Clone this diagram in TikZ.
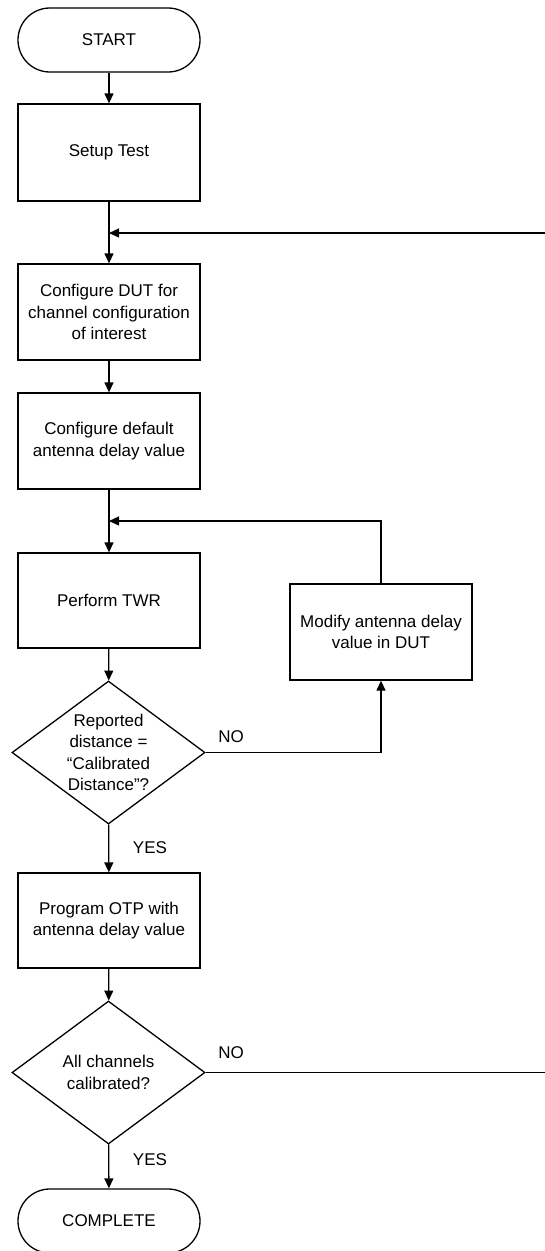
\documentclass[tikz,border=0pt]{standalone}
\usepackage{fontspec}
\setmainfont{Liberation Sans}
\usetikzlibrary{arrows.meta,shapes.geometric}
\begin{document}
\begin{tikzpicture}[x=1pt,y=-1pt,
  every node/.style={font=\fontsize{17}{21.5}\selectfont, align=center},
  line/.style={line width=1.3pt, draw=black},
  arr/.style={line, -{Triangle[length=10pt,width=9pt]}},
  procbox/.style={line, rectangle, minimum width=182pt, minimum height=96pt, inner sep=0pt},
  termbox/.style={line, rectangle, rounded corners=31.9pt, minimum width=182pt, minimum height=64pt, inner sep=0pt},
  decbox/.style={line, diamond, minimum width=193pt, minimum height=143pt, inner sep=0pt, aspect=1.35},
  lbl/.style={font=\fontsize{17}{21.5}\selectfont}
]
\useasboundingbox (0,0) rectangle (545,1251);
\fill[white] (0,0) rectangle (545,1251);

\node[termbox] (start) at (109,40) {START};
\node[procbox, minimum height=97pt] (setup) at (109,152.5) {Setup Test};
\node[procbox] (cfgdut) at (109,312) {Configure DUT for\\channel configuration\\of interest};
\node[procbox] (cfgdef) at (109,441) {Configure default\\antenna delay value};
\node[procbox, minimum height=95pt] (twr) at (109,600.5) {Perform TWR};
\node[decbox] (dec1) at (108.5,752.5) {Reported\\distance =\\“Calibrated\\Distance”?};
\node[procbox] (modify) at (381,632) {Modify antenna delay\\value in DUT};
\node[procbox, minimum height=95pt] (otp) at (109,920.5) {Program OTP with\\antenna delay value};
\node[decbox] (dec2) at (108.5,1072.5) {All channels\\calibrated?};
\node[termbox] (complete) at (109,1221) {COMPLETE};

\coordinate (m1) at (109,233);
\coordinate (m2) at (109,521);
\coordinate (edge1) at (546,233);
\coordinate (edge2) at (546,1072.5);

\draw[arr] (start) -- (setup);
\draw[line] (setup) -- (m1);
\draw[arr] (m1) -- (cfgdut);
\draw[arr] (edge1) -- (m1);
\draw[arr] (cfgdut) -- (cfgdef);
\draw[line] (cfgdef) -- (m2);
\draw[arr] (m2) -- (twr);
\draw[arr] (twr) -- (dec1);
\draw[arr] (dec1.east) -| (modify.south);
\draw[arr] (modify.north) |- (m2);
\draw[arr] (dec1) -- (otp);
\draw[arr] (otp) -- (dec2);
\draw[line] (dec2.east) -- (edge2);
\draw[arr] (dec2) -- (complete);

\node[lbl] (no1) at (231,737) {NO};
\node[lbl] (yes1) at (150,848) {YES};
\node[lbl] (no2) at (231,1053) {NO};
\node[lbl] (yes2) at (150,1160) {YES};
\end{tikzpicture}
\end{document}
